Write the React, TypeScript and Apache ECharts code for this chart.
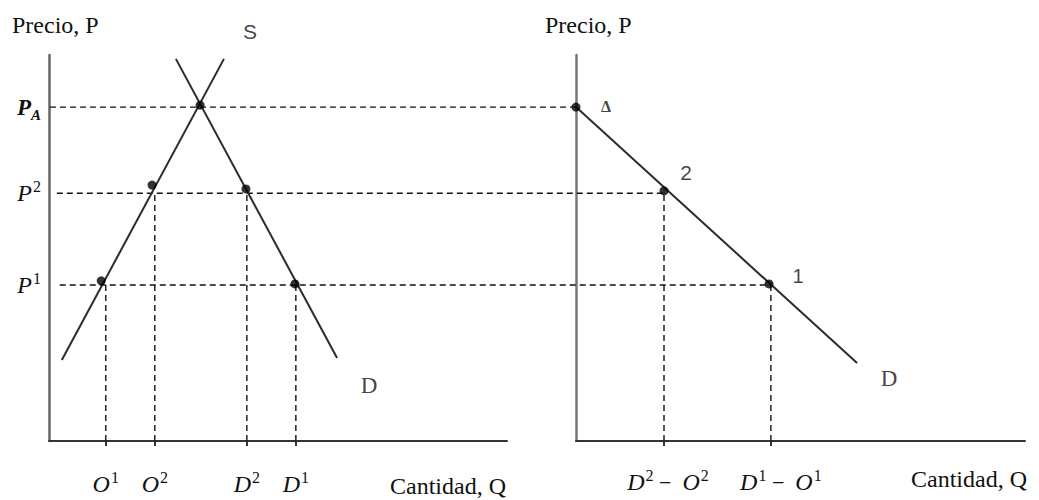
import React, { useEffect, useRef } from "react";
import * as echarts from "echarts";

// ---- data ----
const priceTicks = [86.5, 64.2, 40.4];
const priceTickLabels = ["P_A", "P²", "P¹"];
// dashed price guides, in the full-width overlay coordinate system
const priceGuideStartX = [0.1, 0.8, 1.1];
const priceGuideEndX = [54.0, 63.0, 74.0];

const leftQtyTicks = [12.4, 23.1, 43.2, 53.9];
const leftQtyLabels = ["O¹", "O²", "D²", "D¹"];
const leftQtyHeights = [40.4, 64.2, 64.2, 40.4];

const rightQtyTicks = [19.6, 43.4];
const rightQtyLabels = ["D² −  O²", "D¹ −  O¹"];
const rightQtyHeights = [64.2, 40.4];

const supplyLine = [[2.8, 21.0], [38.2, 99.0]];
const demandLeft = [[27.7, 99.0], [62.9, 21.5]];
const demandRight = [[0, 86.5], [62.6, 20.2]];

const leftDots = [[11.4, 41.5], [22.5, 66.3], [33.0, 87.0], [43.0, 65.3], [53.7, 40.7]];
const rightDots = [[0, 86.5], [19.6, 64.8], [43.0, 40.7]];
const rightDotLabels = ["Δ", "2", "1"];

const leftCurveNames = ["S", "D"];
const leftCurveNamePoints = [[43.9, 106], [69.9, 14.5]];
const rightCurveNames = ["D"];
const rightCurveNamePoints = [[69.7, 16.1]];

// ---- layout ----
const LEFT = { left: 49, top: 55, width: 458, height: 386 };
const RIGHT = { left: 576, top: 55, width: 449, height: 386 };
const FULL = { left: 49, top: 55, width: 976, height: 386 };

const SERIF = "'Liberation Serif', 'Times New Roman', serif";
const SANS = "'Liberation Sans', Arial, sans-serif";

function toRich(label: string, pad = 0): string {
  let out = pad ? `{pad${pad}|}` : "";
  const bold = label.includes("_");
  for (let i = 0; i < label.length; i++) {
    const c = label[i];
    if (c === "¹") out += "{s|1}";
    else if (c === "²") out += "{s|2}";
    else if (c === "_") {
      out += `{u|${label[i + 1]}}`;
      i++;
    } else if (c === " " || c === "−") out += `{m|${c}}`;
    else out += bold ? `{bb|${c}}` : `{b|${c}}`;
  }
  return out;
}

const mathRich: any = {
  b: { fontFamily: SERIF, fontStyle: "italic", fontSize: 24, color: "#111" },
  bb: { fontFamily: SERIF, fontStyle: "italic", fontWeight: "bold", fontSize: 23, color: "#111" },
  s: { fontFamily: SERIF, fontSize: 16, color: "#111", padding: [0, 0, 14, 1] },
  u: { fontFamily: SERIF, fontStyle: "italic", fontWeight: "bold", fontSize: 15, color: "#111", padding: [16, 0, 0, 0] },
  m: { fontFamily: SERIF, fontSize: 22, color: "#111" },
  pad8: { width: 8 },
  pad20: { width: 20 },
};

const findIdx = (arr: number[], v: number) => arr.findIndex((a) => Math.abs(a - v) < 1e-6);

const dashed = { color: "#111", width: 1.4, type: [6, 4] as any };

function buildOption() {
  const series: any[] = [];
  const solid = { color: "#2b2b2b", width: 2 };
  series.push({ type: "line", xAxisIndex: 0, yAxisIndex: 0, data: supplyLine, symbol: "none", lineStyle: solid, z: 3 });
  series.push({ type: "line", xAxisIndex: 0, yAxisIndex: 0, data: demandLeft, symbol: "none", lineStyle: solid, z: 3 });
  series.push({ type: "line", xAxisIndex: 1, yAxisIndex: 1, data: demandRight, symbol: "none", lineStyle: solid, z: 3 });
  priceTicks.forEach((p, i) => {
    series.push({
      type: "line", xAxisIndex: 2, yAxisIndex: 2, symbol: "none",
      data: [[priceGuideStartX[i], p], [priceGuideEndX[i], p]],
      lineStyle: dashed, z: 2,
    });
  });
  leftQtyTicks.forEach((q, i) => {
    series.push({
      type: "line", xAxisIndex: 0, yAxisIndex: 0, symbol: "none",
      data: [[q, 0], [q, leftQtyHeights[i]]], lineStyle: dashed, z: 2,
    });
  });
  rightQtyTicks.forEach((q, i) => {
    series.push({
      type: "line", xAxisIndex: 1, yAxisIndex: 1, symbol: "none",
      data: [[q, 0], [q, rightQtyHeights[i]]], lineStyle: dashed, z: 2,
    });
  });
  series.push({
    type: "scatter", xAxisIndex: 0, yAxisIndex: 0, data: leftDots, symbolSize: 9,
    itemStyle: { color: "#000" }, z: 5,
  });
  const dotOffsets = [[30, -1], [22, -18], [29, -8]];
  const dotFonts = [
    { fontFamily: SERIF, fontWeight: "bold", fontSize: 16 },
    { fontFamily: SANS, fontSize: 21 },
    { fontFamily: SANS, fontSize: 20 },
  ];
  series.push({
    type: "scatter", xAxisIndex: 1, yAxisIndex: 1, clip: false, symbolSize: 9,
    itemStyle: { color: "#000" }, z: 5,
    data: rightDots.map((d, i) => ({
      value: d,
      label: {
        show: true, position: "inside", offset: dotOffsets[i], color: "#111",
        formatter: rightDotLabels[i], ...dotFonts[i],
      },
    })),
  });
  const nameFonts = [
    { fontFamily: SANS, fontSize: 21 },
    { fontFamily: SERIF, fontSize: 23 },
  ];
  series.push({
    type: "scatter", xAxisIndex: 0, yAxisIndex: 0, clip: false, symbolSize: 1,
    itemStyle: { color: "rgba(0,0,0,0)" }, z: 4,
    data: leftCurveNamePoints.map((p, i) => ({
      value: p,
      label: { show: true, position: "inside", color: "#111", formatter: leftCurveNames[i], ...nameFonts[i] },
    })),
  });
  series.push({
    type: "scatter", xAxisIndex: 1, yAxisIndex: 1, clip: false, symbolSize: 1,
    itemStyle: { color: "rgba(0,0,0,0)" }, z: 4,
    data: rightCurveNamePoints.map((p, i) => ({
      value: p,
      label: { show: true, position: "inside", color: "#111", formatter: rightCurveNames[i], fontFamily: SERIF, fontSize: 23 },
    })),
  });

  const titleStyle = { fontFamily: SERIF, fontSize: 24, fontWeight: "normal", color: "#111" };
  const rightPads = [8, 20];

  return {
    animation: false,
    backgroundColor: "#fff",
    title: [
      { text: "Precio, P", left: 12, top: 13, padding: 0, textStyle: titleStyle },
      { text: "Precio, P", left: 545, top: 13, padding: 0, textStyle: titleStyle },
      { text: "Cantidad, Q", left: 390, top: 474, padding: 0, textStyle: titleStyle },
      { text: "Cantidad, Q", left: 911, top: 467, padding: 0, textStyle: titleStyle },
    ],
    grid: [
      { ...LEFT, containLabel: false },
      { ...RIGHT, containLabel: false },
      { ...FULL, containLabel: false },
    ],
    xAxis: [
      {
        type: "value", gridIndex: 0, min: 0, max: 100,
        axisLine: { show: true, lineStyle: { color: "#333", width: 2 } },
        axisTick: { show: true, customValues: leftQtyTicks, length: 5, lineStyle: { color: "#333", width: 2 } },
        axisLabel: {
          show: true, customValues: leftQtyTicks, margin: 28,
          formatter: (v: number) => toRich(leftQtyLabels[findIdx(leftQtyTicks, v)] || ""),
          rich: mathRich,
        },
        splitLine: { show: false },
      },
      {
        type: "value", gridIndex: 1, min: 0, max: 100,
        axisLine: { show: true, lineStyle: { color: "#333", width: 2 } },
        axisTick: { show: true, customValues: rightQtyTicks, length: 5, lineStyle: { color: "#333", width: 2 } },
        axisLabel: {
          show: true, customValues: rightQtyTicks, margin: 26,
          formatter: (v: number) => {
            const i = findIdx(rightQtyTicks, v);
            return toRich(rightQtyLabels[i] || "", rightPads[i] || 0);
          },
          rich: mathRich,
        },
        splitLine: { show: false },
      },
      {
        type: "value", gridIndex: 2, min: 0, max: 100, show: false,
      },
    ],
    yAxis: [
      {
        type: "value", gridIndex: 0, min: 0, max: 100,
        axisLine: { show: true, lineStyle: { color: "#666", width: 2.5 } },
        axisTick: { show: false },
        axisLabel: {
          show: true, customValues: priceTicks, margin: 8,
          formatter: (v: number) => toRich(priceTickLabels[findIdx(priceTicks, v)] || ""),
          rich: mathRich,
        },
        splitLine: { show: false },
      },
      {
        type: "value", gridIndex: 1, min: 0, max: 100,
        axisLine: { show: true, lineStyle: { color: "#777", width: 2.5 } },
        axisTick: { show: false },
        axisLabel: { show: false },
        splitLine: { show: false },
      },
      {
        type: "value", gridIndex: 2, min: 0, max: 100, show: false,
      },
    ],
    series,
  };
}

export default function App() {
  const ref = useRef<HTMLDivElement>(null);
  useEffect(() => {
    document.body.style.margin = "0";
    if (!ref.current) return;
    const chart = echarts.init(ref.current, null, { renderer: "svg" });
    chart.setOption(buildOption() as any);
    return () => chart.dispose();
  }, []);
  return <div ref={ref} style={{ width: 1039, height: 500 }} />;
}
